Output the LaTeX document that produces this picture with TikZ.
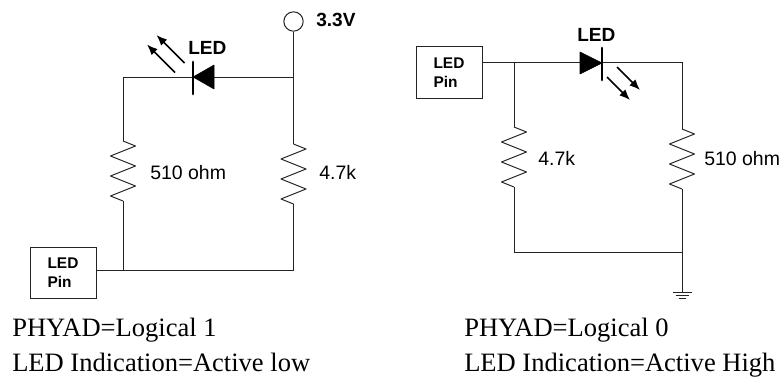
\documentclass[tikz,border=0pt]{standalone}
\usepackage{fontspec}
\setmainfont{Liberation Serif}
\setsansfont{Liberation Sans}
\usepackage{tikz}
\usetikzlibrary{arrows.meta, positioning, calc}
\definecolor{wiregray}{RGB}{35, 35, 35}
\newcommand{\labelfont}{\sffamily\fontsize{14.6}{17}\selectfont}
\newcommand{\ledfont}{\sffamily\bfseries\fontsize{14.3}{17}\selectfont}
\newcommand{\pinfont}{\sffamily\bfseries\fontsize{11.6}{14.25}\selectfont}
\newcommand{\notefont}{\rmfamily\fontsize{19.9}{24}\selectfont}

\tikzset{
    wire/.style={draw=wiregray, line width=0.75pt},
    pinbox/.style={draw=wiregray, line width=0.75pt, minimum width=49.5pt, minimum height=38.25pt,
          inner sep=0pt, align=left, font=\pinfont},
    ledbar/.style={draw=black, line width=2.2pt, line cap=round},
    ledbody/.style={fill=black, draw=black, line width=0.4pt, line join=round},
    ray/.style={draw=black, line width=1.3pt, -{Latex[length=8pt, width=6.5pt]}},
    vallabel/.style={anchor=base west, inner sep=0pt, font=\labelfont},
    ledlabel/.style={anchor=base west, inner sep=0pt, font=\ledfont},
    notelabel/.style={anchor=base west, inner sep=0pt, font=\notefont},
    pics/zigres/.style={code={
        \draw[wire, line join=round] (0,0) -- (12.5,5) -- (-12.5,15) -- (12.5,25) -- (-12.5,35) -- (12.5,45) -- (-12.5,55) -- (0,60);
    }}
}

\begin{document}
\begin{tikzpicture}[x=0.75pt, y=-0.75pt]
    \useasboundingbox (0,0) rectangle (780,378);

    % active low
    \node[circle, wire, minimum size=14.5pt, inner sep=0pt] (vcc) at (293.5,21.5) {};
    \node[vallabel] (vcclabel) at (316,27) {\ledfont 3.3V};
    \coordinate (tjoin) at (293.5,77);
    \coordinate (tleft) at (123,77);
    \coordinate (cathA) at (193,77);
    \coordinate (anodeA) at (214,77);
    \coordinate (rAtop) at (123,141);
    \coordinate (rAbot) at (123,201);
    \coordinate (rBtop) at (293.5,144);
    \coordinate (rBbot) at (293.5,204);
    \coordinate (bjoin) at (123,270);
    \coordinate (bright) at (293.5,270);
    \node[pinbox] (pinA) at (63,272.5) {LED\\Pin};

    \draw[wire] (vcc.south) -- (tjoin) -- (rBtop);
    \draw[wire] (tjoin) -- (anodeA);
    \draw[wire] (cathA) -- (tleft) -- (rAtop);
    \draw[wire] (rAbot) -- (bjoin) -- (bjoin -| pinA.east);
    \draw[wire] (bjoin) -- (bright) -- (rBbot);
    \pic at (rAtop) {zigres};
    \pic at (rBtop) {zigres};

    \draw[ledbody] (cathA) -- ($(anodeA)+(0,-12)$) -- ($(anodeA)+(0,12)$) -- cycle;
    \draw[ledbar] ($(cathA)+(0,-15)$) -- ($(cathA)+(0,17)$);
    \coordinate (rayAa) at (175,72.5);
    \coordinate (rayAb) at (184.5,63);
    \draw[ray] (rayAa) -- ++(-28,-28);
    \draw[ray] (rayAb) -- ++(-28,-28);

    \node[ledlabel] (ledA) at (188,55) {LED};
    \node[vallabel] (resA) at (150,179) {510 ohm};
    \node[vallabel] (resB) at (319,179) {4.7k};
    \node[notelabel] (noteA) at (12,336) {PHYAD=Logical 1};
    \node[notelabel] (noteB) at (12,371) {LED Indication=Active low};

    % active high
    \node[pinbox] (pinB) at (449,72.5) {LED\\Pin};
    \coordinate (tjoinB) at (514,63);
    \coordinate (anodeB) at (580,63);
    \coordinate (cathB) at (602,63);
    \coordinate (trightB) at (682,63);
    \coordinate (rCtop) at (514,127);
    \coordinate (rCbot) at (514,187);
    \coordinate (rDtop) at (682,129);
    \coordinate (rDbot) at (682,189);
    \coordinate (bjoinB) at (514,252);
    \coordinate (brightB) at (682,252);
    \coordinate (gnd) at (682,292);

    \draw[wire] (pinB.east |- tjoinB) -- (anodeB);
    \draw[wire] (cathB) -- (trightB) -- (rDtop);
    \draw[wire] (tjoinB) -- (rCtop);
    \draw[wire] (rCbot) -- (bjoinB) -- (brightB) -- (rDbot);
    \draw[wire] (brightB) -- (gnd);
    \pic at (rCtop) {zigres};
    \pic at (rDtop) {zigres};

    \draw[wire] ($(gnd)+(-9.5,0)$) -- ($(gnd)+(9.5,0)$);
    \draw[wire] ($(gnd)+(-6.5,3.2)$) -- ($(gnd)+(6.5,3.2)$);
    \draw[wire] ($(gnd)+(-3.5,6.4)$) -- ($(gnd)+(3.5,6.4)$);

    \draw[ledbody] (cathB) -- ($(anodeB)+(0,-11)$) -- ($(anodeB)+(0,11)$) -- cycle;
    \draw[ledbar] ($(cathB)+(0,-15)$) -- ($(cathB)+(0,17)$);
    \coordinate (rayBa) at (617,67);
    \coordinate (rayBb) at (607,77);
    \draw[ray] (rayBa) -- ++(23,23);
    \draw[ray] (rayBb) -- ++(23,23);

    \node[ledlabel] (ledB) at (577,41) {LED};
    \node[vallabel] (resC) at (538,165) {4.7k};
    \node[vallabel] (resD) at (704,165) {510 ohm};
    \node[notelabel] (noteC) at (464,336) {PHYAD=Logical 0};
    \node[notelabel] (noteD) at (464,371) {LED Indication=Active High};
\end{tikzpicture}
\end{document}
